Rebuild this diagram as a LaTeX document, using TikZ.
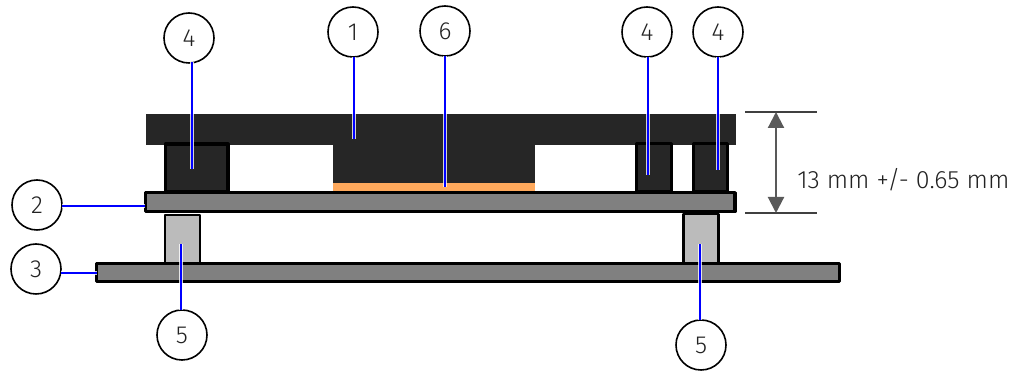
\documentclass[tikz,border=0pt]{standalone}
\usepackage{fontspec}
\setmainfont{Fira Sans Light}
\definecolor{dark}{HTML}{262626}
\definecolor{board}{HTML}{808080}
\definecolor{spacer}{HTML}{BBBBBB}
\definecolor{solder}{HTML}{FFA95C}
\definecolor{dim}{HTML}{595959}
\definecolor{lead}{HTML}{0000FF}
\definecolor{txt}{HTML}{222222}
\usetikzlibrary{arrows.meta}
\tikzset{
  x=0.75pt,y=-0.75pt,
  pcbboard/.style={draw=black,fill=board,line width=2.6pt,line join=round},
  blockpart/.style={draw=black,fill=dark,line width=2.4pt,line join=round},
  spacerpart/.style={draw=black,fill=spacer,line width=2pt,line join=round},
  callout/.style={circle,draw=black,fill=white,line width=1.2pt,minimum size=37.5pt,inner sep=0pt,text=txt,font=\fontsize{18.5}{20}\selectfont},
  halo/.style={draw=white,line width=3.6pt,opacity=0.8},
  leader/.style={draw=lead,line width=1.7pt},
  dimline/.style={draw=black!75,line width=1.2pt},
}
\newcommand{\callline}[2]{\draw[halo] (#1) -- (#2); \draw[leader] (#1) -- (#2);}
\begin{document}
\begin{tikzpicture}
\useasboundingbox (0,0) rectangle (1018,373);
% heatspreader and die
\fill[dark] (146,114) rectangle (736,145);
\fill[dark] (333,145) rectangle (535,184);
\fill[solder] (333,183) rectangle (535,192);
% standoffs
\path[blockpart] (165.5,144) rectangle (228,192);
\path[blockpart] (636.5,143.5) rectangle (671.5,192);
\path[blockpart] (693.5,143.5) rectangle (727.5,192);
% boards
\path[pcbboard] (145.7,192.7) rectangle (734.8,211.5);
\path[spacerpart] (165,215) rectangle (200,263);
\path[spacerpart] (683.5,214) rectangle (718.5,263);
\path[pcbboard] (96.7,263.7) rectangle (839.3,281.5);
% dimension
\coordinate (dimtopL) at (745,112);
\coordinate (dimtopR) at (817,112);
\coordinate (dimbotL) at (745,213);
\coordinate (dimbotR) at (817,213);
\coordinate (dimtop) at (776,112);
\coordinate (dimbot) at (776,213);
\draw[dimline] (dimtopL) -- (dimtopR);
\draw[dimline] (dimbotL) -- (dimbotR);
\draw[draw=dim,line width=1.6pt,{Triangle[length=12pt,width=12pt,fill=dim]}-{Triangle[length=12pt,width=12pt,fill=dim]}] (dimtop) -- (dimbot);
\node[anchor=west,inner sep=0pt,text=txt,font=\fontsize{18.8}{20}\selectfont] (dimtext) at (797,180) {13 mm +/- 0.65 mm};
% callouts
\node[callout] (a) at (189,38) {4};
\node[callout] (b) at (353,32) {1};
\node[callout] (c) at (445,31) {6};
\node[callout] (d) at (647,32) {4};
\node[callout] (e) at (718,32) {4};
\node[callout] (f) at (37,205) {2};
\node[callout] (g) at (36,269) {3};
\node[callout] (h) at (182,335) {5};
\node[callout] (i) at (701,345) {5};
\coordinate (ae) at (192,169);
\coordinate (as) at (192,62);
\coordinate (be) at (354,139);
\coordinate (bs) at (354,57);
\coordinate (ce) at (445,187);
\coordinate (cs) at (445,56);
\coordinate (de) at (648,175);
\coordinate (ds) at (648,57);
\coordinate (ee) at (718,170);
\coordinate (es) at (718,57);
\coordinate (fe) at (145,206);
\coordinate (fs) at (62,206);
\coordinate (ge) at (97,273);
\coordinate (gs) at (61,273);
\coordinate (he) at (181,244);
\coordinate (hs) at (181,310);
\coordinate (ie) at (700,244);
\coordinate (is) at (700,320);
\callline{as}{ae}\callline{bs}{be}\callline{cs}{ce}\callline{ds}{de}\callline{es}{ee}
\callline{fs}{fe}\callline{gs}{ge}\callline{hs}{he}\callline{is}{ie}
\end{tikzpicture}
\end{document}
